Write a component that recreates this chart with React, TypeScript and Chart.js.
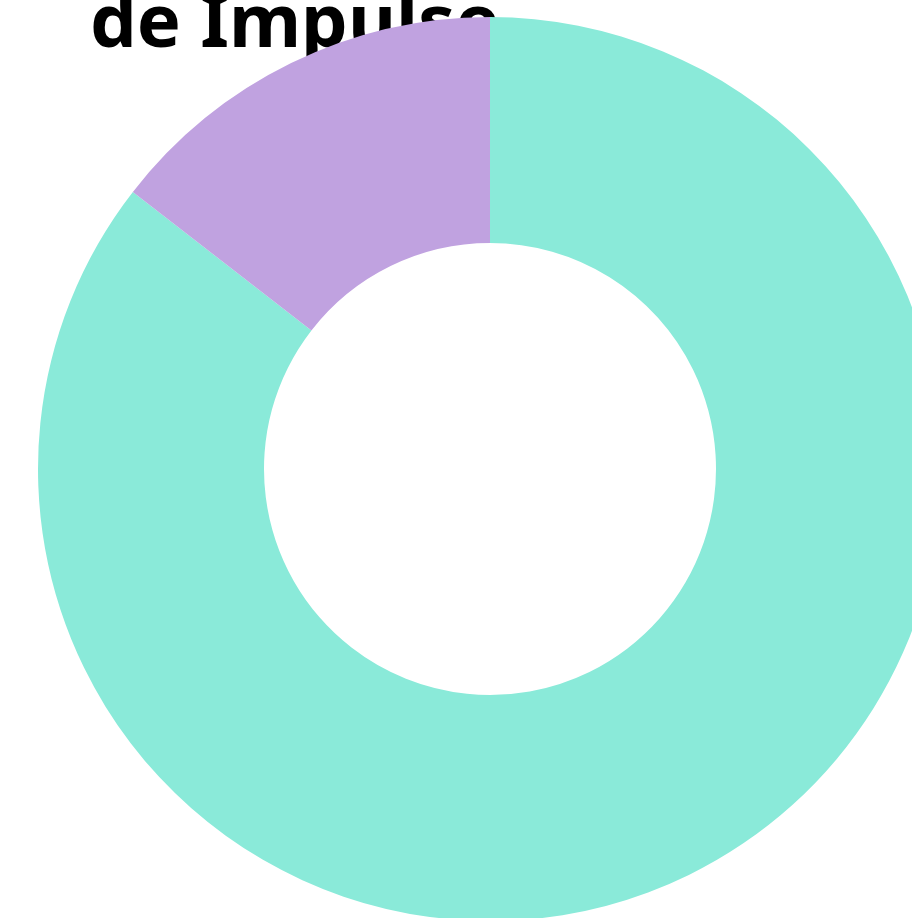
import React, { useEffect, useRef } from "react";
import { Chart, registerables } from "chart.js";

Chart.register(...registerables);

const titleText = "de Impulse";
const categories = ["Teal", "Purple"];
const values = [85.5, 14.5];
const colors = ["#8AEAD9", "#C0A2E0"];

const titlePlugin = {
  id: "behindTitle",
  beforeDatasetsDraw(chart: any) {
    const ctx = chart.ctx;
    ctx.save();
    ctx.font = "bold 74px 'Noto Sans'";
    ctx.fillStyle = "#000";
    ctx.textAlign = "left";
    ctx.textBaseline = "alphabetic";
    ctx.fillText(titleText, 90, 47);
    ctx.restore();
  },
};

export default function App() {
  const ref = useRef<HTMLCanvasElement | null>(null);
  useEffect(() => {
    if (!ref.current) return;
    const chart = new Chart(ref.current, {
      type: "doughnut",
      data: {
        labels: categories,
        datasets: [
          {
            data: values,
            backgroundColor: colors,
            borderWidth: 0,
          },
        ],
      },
      options: {
        animation: false,
        responsive: false,
        cutout: "50%",
        layout: { padding: { left: 38, right: 58, top: 17, bottom: 79 } },
        plugins: {
          legend: { display: false },
          title: { display: false },
          tooltip: { enabled: false },
        },
      },
      plugins: [titlePlugin],
    });
    return () => chart.destroy();
  }, []);
  return (
    <div style={{ position: "fixed", left: 0, top: 0, width: 912, height: 918, overflow: "hidden", background: "#fff" }}>
      <canvas ref={ref} width={1000} height={1000} style={{ position: "absolute", left: 0, top: 0, width: 1000, height: 1000 }} />
    </div>
  );
}
